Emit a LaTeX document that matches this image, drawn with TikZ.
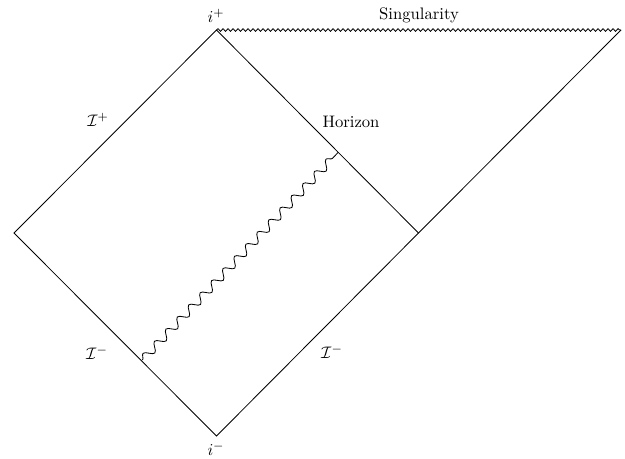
\documentclass[tikz,border=0pt]{standalone}
\usetikzlibrary{decorations.pathmorphing}
\begin{document}
\begin{tikzpicture}[x=0.6pt,y=-0.6pt,
  edge/.style={draw=black,line width=0.5pt},
  wave/.style={draw=black,line width=0.5pt,decorate,decoration={snake,amplitude=2.5pt,segment length=10pt}},
  sing/.style={draw=black,line width=0.5pt,decorate,decoration={snake,amplitude=0.8pt,segment length=3pt}},
  lbl/.style={inner sep=0pt}]
\useasboundingbox (0,0) rectangle (625,458);
\coordinate (top) at (216.5,30);
\coordinate (left) at (14,233);
\coordinate (bot) at (216.5,436);
\coordinate (mid) at (418.5,233);
\coordinate (tr) at (621,30);
\coordinate (wa) at (142.5,360);
\coordinate (wb) at (338,152.5);
\draw[edge] (top) -- (left) -- (bot) -- (mid) -- (top);
\draw[edge] (mid) -- (tr);
\draw[sing] (top) -- (tr);
\draw[wave] (wa) -- (wb);
\node[lbl] (ip) at (216,16) {$i^+$};
\node[lbl] (im) at (216,449) {$i^-$};
\node[lbl] (s) at (419,15) {Singularity};
\node[lbl] (h) at (351,122) {Horizon};
\node[lbl] (sp) at (98,120) {$\mathcal{I}^+$};
\node[lbl] (sm1) at (97,353) {$\mathcal{I}^-$};
\node[lbl] (sm2) at (332,352) {$\mathcal{I}^-$};
\end{tikzpicture}
\end{document}
